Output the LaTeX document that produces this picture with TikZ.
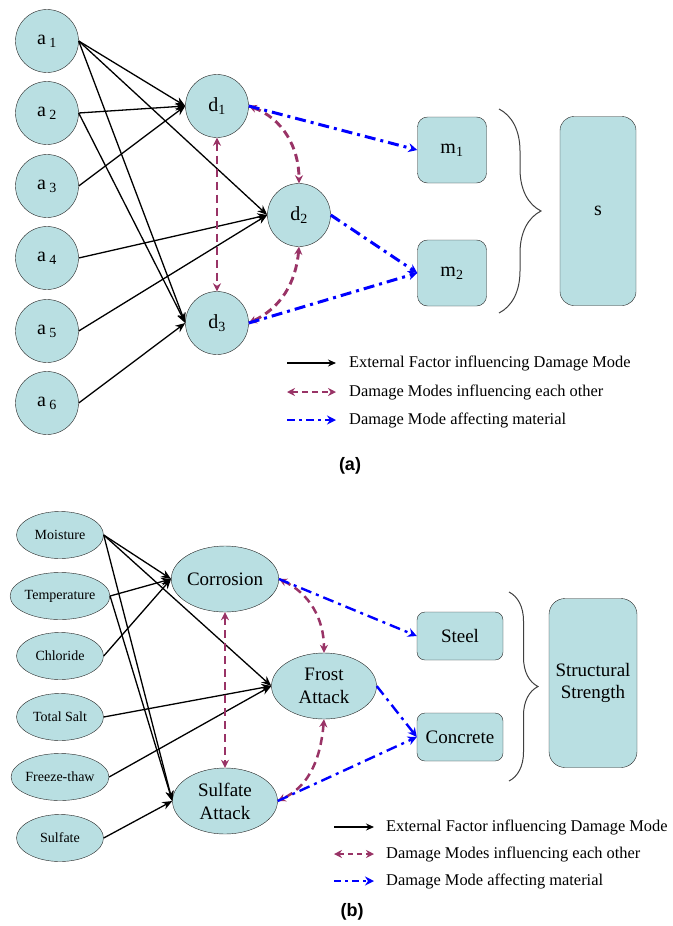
\documentclass[tikz,border=0pt]{standalone}
\usepackage{fontspec}
\setmainfont{Liberation Serif}
\newfontfamily\capfont{Liberation Sans}
\usetikzlibrary{arrows.meta, shapes.geometric, decorations.pathreplacing}
\definecolor{nodecyan}{RGB}{185, 223, 226}
\definecolor{modepurple}{RGB}{153, 51, 102}
\definecolor{matblue}{RGB}{0, 0, 255}

\tikzset{
  factor/.style={circle, draw=black!85, fill=nodecyan, minimum size=63pt, inner sep=0pt, font=\rmfamily\fontsize{20}{22}\selectfont},
  mode/.style={factor},
  matbox/.style={rectangle, rounded corners=10pt, draw=black!85, fill=nodecyan, minimum width=69pt, minimum height=66pt, font=\rmfamily\fontsize{20}{22}\selectfont},
  factorb/.style={ellipse, draw=black!85, fill=nodecyan, minimum width=87pt, minimum height=47pt, inner sep=0pt, font=\rmfamily\fontsize{14}{16}\selectfont},
  modeb/.style={ellipse, draw=black!85, fill=nodecyan, minimum width=105pt, minimum height=66pt, inner sep=0pt, align=center, font=\rmfamily\fontsize{19}{23}\selectfont},
  matboxb/.style={rectangle, rounded corners=8pt, draw=black!85, fill=nodecyan, minimum width=86pt, minimum height=48pt, font=\rmfamily\fontsize{19}{22}\selectfont},
  extarrow/.style={-{Stealth[length=10pt,width=8pt]}, line width=1.3pt, black},
  modearrow/.style={{Stealth[length=8pt,width=8pt]}-{Stealth[length=8pt,width=8pt]}, line width=2.9pt, modepurple, dash pattern=on 8pt off 5pt},
  matarrow/.style={-{Stealth[length=9pt,width=9pt]}, line width=3pt, matblue, dash pattern=on 11pt off 5pt on 3pt off 5pt},
  bracket/.style={decorate, draw=black!75, line width=1pt},
  legtext/.style={anchor=west, inner sep=0pt, font=\rmfamily\fontsize{16.4}{18}\selectfont},
  caption/.style={font=\capfont\bfseries\fontsize{18}{20}\selectfont}
}

\begin{document}
\begin{tikzpicture}[x=1pt, y=-1pt]
\useasboundingbox (0,0) rectangle (672,926);

% (a) external factors, damage modes, materials
\foreach \i/\y in {1/41, 2/113, 3/186, 4/258, 5/331, 6/403}
  \node[factor] (a\i) at (47,\y) {a\,\textsubscript{\i}};

\node[mode] (d1) at (217,106) {d\textsubscript{1}};
\node[mode] (d2) at (299,215) {d\textsubscript{2}};
\node[mode] (d3) at (217,323) {d\textsubscript{3}};

\node[matbox] (m1) at (452,150) {m\textsubscript{1}};
\node[matbox] (m2) at (452,273) {m\textsubscript{2}};
\node[matbox, minimum width=76pt, minimum height=189pt, rounded corners=14pt] (s) at (598,211) {s};

\draw[extarrow] (a1.east) -- (d1.west);
\draw[extarrow] (a1.east) -- (d2.west);
\draw[extarrow] (a1.east) -- (d3.west);
\draw[extarrow] (a2.east) -- (d1.west);
\draw[extarrow] (a2.east) -- (d3.west);
\draw[extarrow] (a3.east) -- (d1.west);
\draw[extarrow] (a4.east) -- (d2.west);
\draw[extarrow] (a5.east) -- (d2.west);
\draw[extarrow] (a6.east) -- (d3.west);

\draw[modearrow] (d1.east) to[out=-20, in=90] (d2.north);
\draw[modearrow] (d1.south) -- (d3.north);
\draw[modearrow] (d2.south) to[out=-95, in=25] (d3.east);

\draw[matarrow] (d1.east) -- (m1.west);
\draw[matarrow] (d2.east) -- (m2.west);
\draw[matarrow] (d3.east) -- (m2.west);

\draw[bracket, decoration={brace, amplitude=42pt, aspect=0.5}] (499,109) -- (499,313);

% legend (a)
\coordinate (la1) at (287,363); \coordinate (lb1) at (336,363);
\coordinate (la2) at (287,392); \coordinate (lb2) at (336,392);
\coordinate (la3) at (287,420); \coordinate (lb3) at (336,420);
\draw[extarrow, line width=1.2pt, -{Stealth[length=8pt,width=7pt]}] (la1) -- (lb1);
\draw[modearrow, line width=2.4pt, dash pattern=on 6pt off 4pt] (la2) -- (lb2);
\draw[matarrow, line width=2.4pt, dash pattern=on 8pt off 4pt on 3pt off 4pt] (la3) -- (lb3);
\node[legtext] (lt1) at (349,363) {External Factor influencing Damage Mode};
\node[legtext] (lt2) at (349,392) {Damage Modes influencing each other};
\node[legtext] (lt3) at (349,420) {Damage Mode affecting material};
\node[caption] (capa) at (350,466) {(a)};

% (b) the same network, named
\node[factorb] (moist) at (60,535) {Moisture};
\node[factorb] (temp) at (60,596) {Temperature};
\node[factorb] (chlor) at (60,656) {Chloride};
\node[factorb] (salt) at (60,717) {Total Salt};
\node[factorb] (freeze) at (60,777) {Freeze-thaw};
\node[factorb] (sulf) at (60,838) {Sulfate};

\node[modeb] (corr) at (225,579) {Corrosion};
\node[modeb] (frost) at (324,686) {Frost\\Attack};
\node[modeb] (sattack) at (225,801) {Sulfate\\Attack};

\node[matboxb] (steel) at (460,636) {Steel};
\node[matboxb] (concr) at (460,737) {Concrete};
\node[matboxb, minimum width=88pt, minimum height=169pt, rounded corners=16pt, align=center] (strength) at (593,683) {Structural\\Strength};

\draw[extarrow] (moist.east) -- (corr.west);
\draw[extarrow] (moist.east) -- (frost.west);
\draw[extarrow] (moist.east) -- (sattack.west);
\draw[extarrow] (temp.east) -- (corr.west);
\draw[extarrow] (temp.east) -- (sattack.west);
\draw[extarrow] (chlor.east) -- (corr.west);
\draw[extarrow] (salt.east) -- (frost.west);
\draw[extarrow] (freeze.east) -- (frost.west);
\draw[extarrow] (sulf.east) -- (sattack.west);

\draw[modearrow, line width=2.5pt] (corr.east) to[out=-25, in=90] (frost.north);
\draw[modearrow, line width=2.5pt] (corr.south) -- (sattack.north);
\draw[modearrow, line width=2.5pt] (frost.south) to[out=-95, in=25] (sattack.east);

\draw[matarrow, line width=2.4pt] (corr.east) -- (steel.west);
\draw[matarrow, line width=2.4pt] (frost.east) -- (concr.west);
\draw[matarrow, line width=2.4pt] (sattack.east) -- (concr.west);

\draw[bracket, decoration={brace, amplitude=29pt, aspect=0.5}] (509,592) -- (509,781);

% legend (b)
\coordinate (lc1) at (334,827); \coordinate (ld1) at (374,827);
\coordinate (lc2) at (334,854); \coordinate (ld2) at (374,854);
\coordinate (lc3) at (334,881); \coordinate (ld3) at (374,881);
\draw[extarrow, line width=1.2pt, -{Stealth[length=8pt,width=7pt]}] (lc1) -- (ld1);
\draw[modearrow, line width=2.2pt, dash pattern=on 5pt off 4pt] (lc2) -- (ld2);
\draw[matarrow, line width=2.2pt, dash pattern=on 7pt off 4pt on 3pt off 4pt] (lc3) -- (ld3);
\node[legtext] (lu1) at (386,827) {External Factor influencing Damage Mode};
\node[legtext] (lu2) at (386,854) {Damage Modes influencing each other};
\node[legtext] (lu3) at (386,881) {Damage Mode affecting material};
\node[caption] (capb) at (352,912) {(b)};
\end{tikzpicture}
\end{document}
